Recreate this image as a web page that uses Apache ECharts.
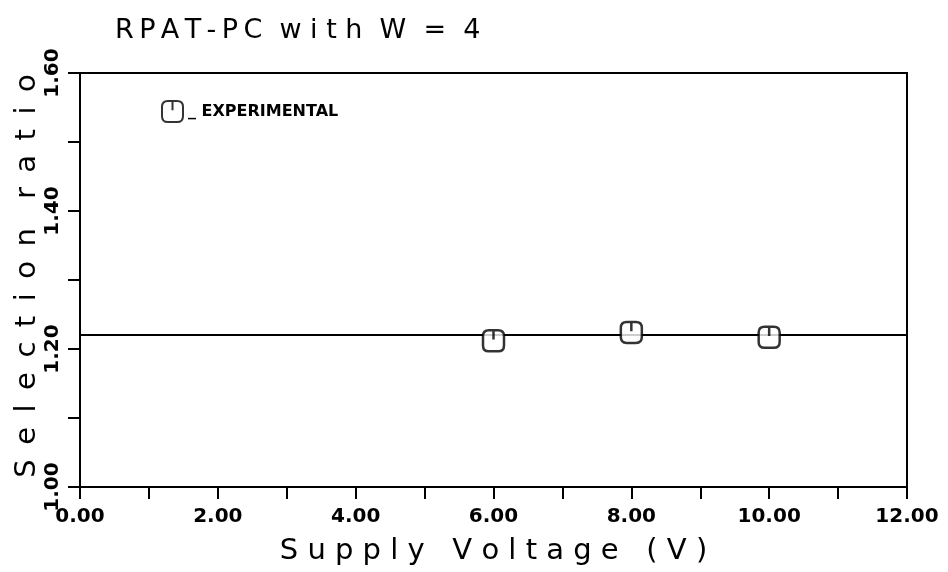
<!DOCTYPE html>
<html>
<head>
<meta charset="utf-8">
<script src="https://cdn.jsdelivr.net/npm/echarts@6/dist/echarts.min.js"></script>
<style>
  html, body { margin: 0; padding: 0; background: #fff; }
  #chart { width: 948px; height: 572px; }
</style>
</head>
<body>
<div id="chart"></div>
<script>
// Measured selection ratio at each supply voltage
const voltages = [6.0, 8.0, 10.0];
const ratios = [1.212, 1.224, 1.217];
// Reference level drawn across the plot
const refLevel = 1.223;
const seriesName = '_ EXPERIMENTAL';

// Rounded square with a short vertical stroke from the top edge
const markerPath = 'path://M6,1 L14,1 Q19,1 19,6 L19,14 Q19,19 14,19 L6,19 Q1,19 1,14 L1,6 Q1,1 6,1 Z M10,1 L10,9';

const FONT = 'DejaVu Sans';
const TS = '\u2009';   // thin space
const ES = '\u2002';   // en space
const spread = (s, sep) => s.split('').join(sep);

const chart = echarts.init(document.getElementById('chart'));

chart.setOption({
  backgroundColor: '#ffffff',
  animation: false,
  title: {
    text: spread('RPAT-PC', TS) + '  w i t h  W  =  4',
    left: 110,
    top: 12,
    textStyle: { fontFamily: FONT, fontSize: 27, fontWeight: 'normal', color: '#000' }
  },
  legend: {
    left: 156,
    top: 95,
    itemWidth: 21,
    itemHeight: 21,
    itemGap: 6,
    textStyle: { fontFamily: FONT, fontSize: 16, fontWeight: 'bold', color: '#000' },
    data: [seriesName]
  },
  grid: {
    left: 80, right: 41, top: 73, bottom: 85,
    outerBoundsMode: 'none',
    containLabel: false,
    show: true, borderColor: '#000', borderWidth: 2
  },
  xAxis: {
    type: 'value',
    min: 0, max: 12, interval: 1,
    name: 'S u p p l y   V o l t a g e   ( V )',
    nameLocation: 'middle',
    nameGap: 50,
    nameMoveOverlap: false,
    nameTextStyle: { fontFamily: FONT, fontSize: 29, color: '#000' },
    axisLine: { show: true, lineStyle: { color: '#000', width: 2 } },
    axisTick: { show: true, inside: false, length: 12, lineStyle: { color: '#000', width: 2 } },
    axisLabel: {
      margin: 20,
      fontFamily: FONT, fontSize: 20, fontWeight: 'bold', color: '#000',
      formatter: v => (Math.round(v) % 2 === 0 ? v.toFixed(2) : '')
    },
    splitLine: { show: false }
  },
  yAxis: {
    type: 'value',
    min: 1.0, max: 1.6, interval: 0.1,
    name: spread('Selection', ES) + ES + ES + spread('ratio', ES),
    nameLocation: 'middle',
    nameRotate: 90,
    nameGap: 38,
    nameMoveOverlap: false,
    nameTextStyle: { fontFamily: FONT, fontSize: 29, color: '#000', padding: [0, 0, 0, 8] },
    axisLine: { show: true, lineStyle: { color: '#000', width: 2 } },
    axisTick: { show: true, inside: false, length: 12, lineStyle: { color: '#000', width: 2 } },
    axisLabel: {
      rotate: 90,
      margin: 17,
      fontFamily: FONT, fontSize: 20, fontWeight: 'bold', color: '#000',
      formatter: v => (Math.round(v * 10) % 2 === 0 ? v.toFixed(2) : '')
    },
    splitLine: { show: false }
  },
  series: [{
    name: seriesName,
    type: 'scatter',
    symbol: markerPath,
    symbolSize: 21,
    itemStyle: { color: '#fff', borderColor: '#000', borderWidth: 2.5 },
    data: voltages.map((v, i) => [v, ratios[i]]),
    markLine: {
      silent: true,
      symbol: ['none', 'none'],
      label: { show: false },
      lineStyle: { color: '#000', width: 2, type: 'solid' },
      data: [{ yAxis: refLevel }]
    },
    z: 5
  }]
});
</script>
</body>
</html>
